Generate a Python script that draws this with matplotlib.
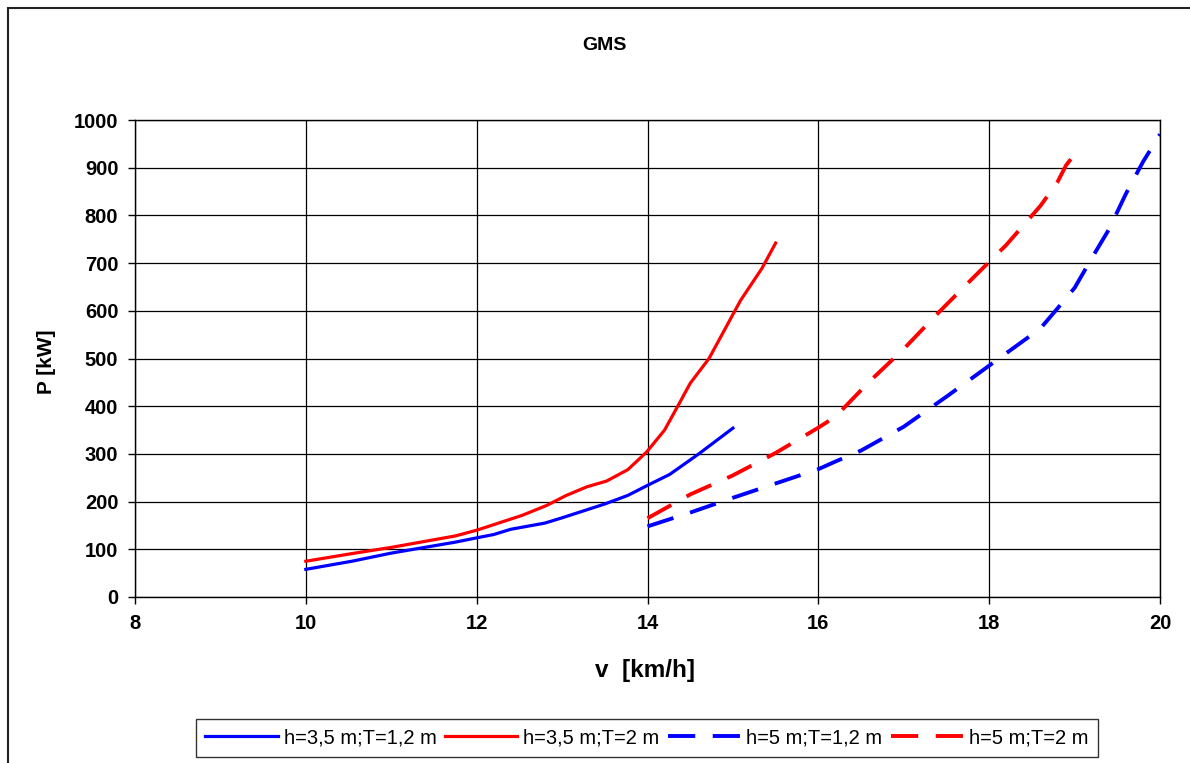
import matplotlib.pyplot as plt
from matplotlib.patches import Rectangle

plt.rcParams['font.family'] = ['Liberation Sans', 'DejaVu Sans']

# h=3,5 m; T=1,2 m
v_a = [10.0, 10.54, 11.0, 11.75, 12.0, 12.2, 12.4, 12.8, 13.0, 13.5, 13.77, 14.0, 14.26, 14.6, 15.0]
p_a = [58, 75, 92, 115, 124, 131, 142, 155, 166, 195, 213, 234, 257, 300, 354]

# h=3,5 m; T=2 m
v_b = [10.0, 10.54, 11.0, 11.75, 12.0, 12.53, 12.82, 13.05, 13.29, 13.52, 13.77, 13.99, 14.2, 14.36, 14.5, 14.72, 15.09, 15.34, 15.5]
p_b = [75, 91, 104, 128, 140, 171, 192, 213, 231, 243, 267, 304, 350, 402, 448, 500, 622, 689, 742]

# h=5 m; T=1,2 m
v_c = [14.0, 14.5, 15.0, 15.5, 16.0, 16.2, 16.5, 17.0, 17.5, 18.0, 18.3, 18.6, 18.8, 19.0, 19.2, 19.4, 19.6, 19.8, 20.0]
p_c = [148, 177, 208, 238, 268, 284, 307, 357, 420, 485, 524, 563, 605, 648, 710, 770, 845, 912, 970]

# h=5 m; T=2 m
v_d = [14.0, 14.5, 15.0, 15.5, 16.0, 16.2, 16.6, 17.0, 17.4, 17.8, 18.2, 18.6, 18.8, 18.9, 19.0]
p_d = [165, 215, 255, 302, 355, 378, 452, 520, 595, 667, 738, 820, 870, 905, 928]

labels = ['h=3,5 m;T=1,2 m', 'h=3,5 m;T=2 m', 'h=5 m;T=1,2 m', 'h=5 m;T=2 m']

fig = plt.figure(figsize=(11.9, 7.63), dpi=100)
W, H = 1190, 763
ax = fig.add_axes([135 / W, 1 - 597 / H, (1160 - 135) / W, (597 - 120) / H])

# outer chart border (runs off the right/bottom edge)
fig.patches.append(Rectangle((7.5 / W, -0.1), 1.2, 1 - 8.5 / H + 0.1, transform=fig.transFigure,
                             fill=False, edgecolor='#222222', linewidth=1.5))

ax.plot(v_a, p_a, color='#0000ff', lw=2.3, label=labels[0])
ax.plot(v_b, p_b, color='#ff0000', lw=2.3, label=labels[1])
ax.plot(v_c, p_c, color='#0000ff', lw=2.8, dashes=(7, 4.5), label=labels[2])
ax.plot(v_d, p_d, color='#ff0000', lw=2.8, dashes=(7, 4.5), label=labels[3])

ax.set_xlim(8, 20)
ax.set_ylim(0, 1000)
ax.set_xticks(range(8, 21, 2))
ax.set_yticks(range(0, 1001, 100))
ax.grid(True, color='black', linewidth=0.9)
ax.set_axisbelow(True)
for s in ax.spines.values():
    s.set_color('black')
    s.set_linewidth(1.0)
ax.tick_params(direction='out', length=5, width=1, labelsize=14.5, pad=7)
for t in ax.get_xticklabels() + ax.get_yticklabels():
    t.set_fontweight('bold')

fig.text(604 / W, 1 - 45 / H, 'GMS', ha='center', va='center', fontsize=14, fontweight='bold')
fig.text(47 / W, 1 - 362 / H, 'P [kW]', ha='center', va='center', rotation=90,
         fontsize=15, fontweight='bold')
fig.text(645 / W, 1 - 670 / H, 'v  [km/h]', ha='center', va='center', fontsize=17.5, fontweight='bold')

leg = fig.legend(loc='center', bbox_to_anchor=(647 / W, 1 - 738 / H), ncol=4, fontsize=14.5,
                 frameon=True, fancybox=False, edgecolor='black', handlelength=3.6,
                 handletextpad=0.3, columnspacing=0.4, borderpad=0.45)
leg.get_frame().set_linewidth(1.0)

fig.savefig('out.png', dpi=100)
